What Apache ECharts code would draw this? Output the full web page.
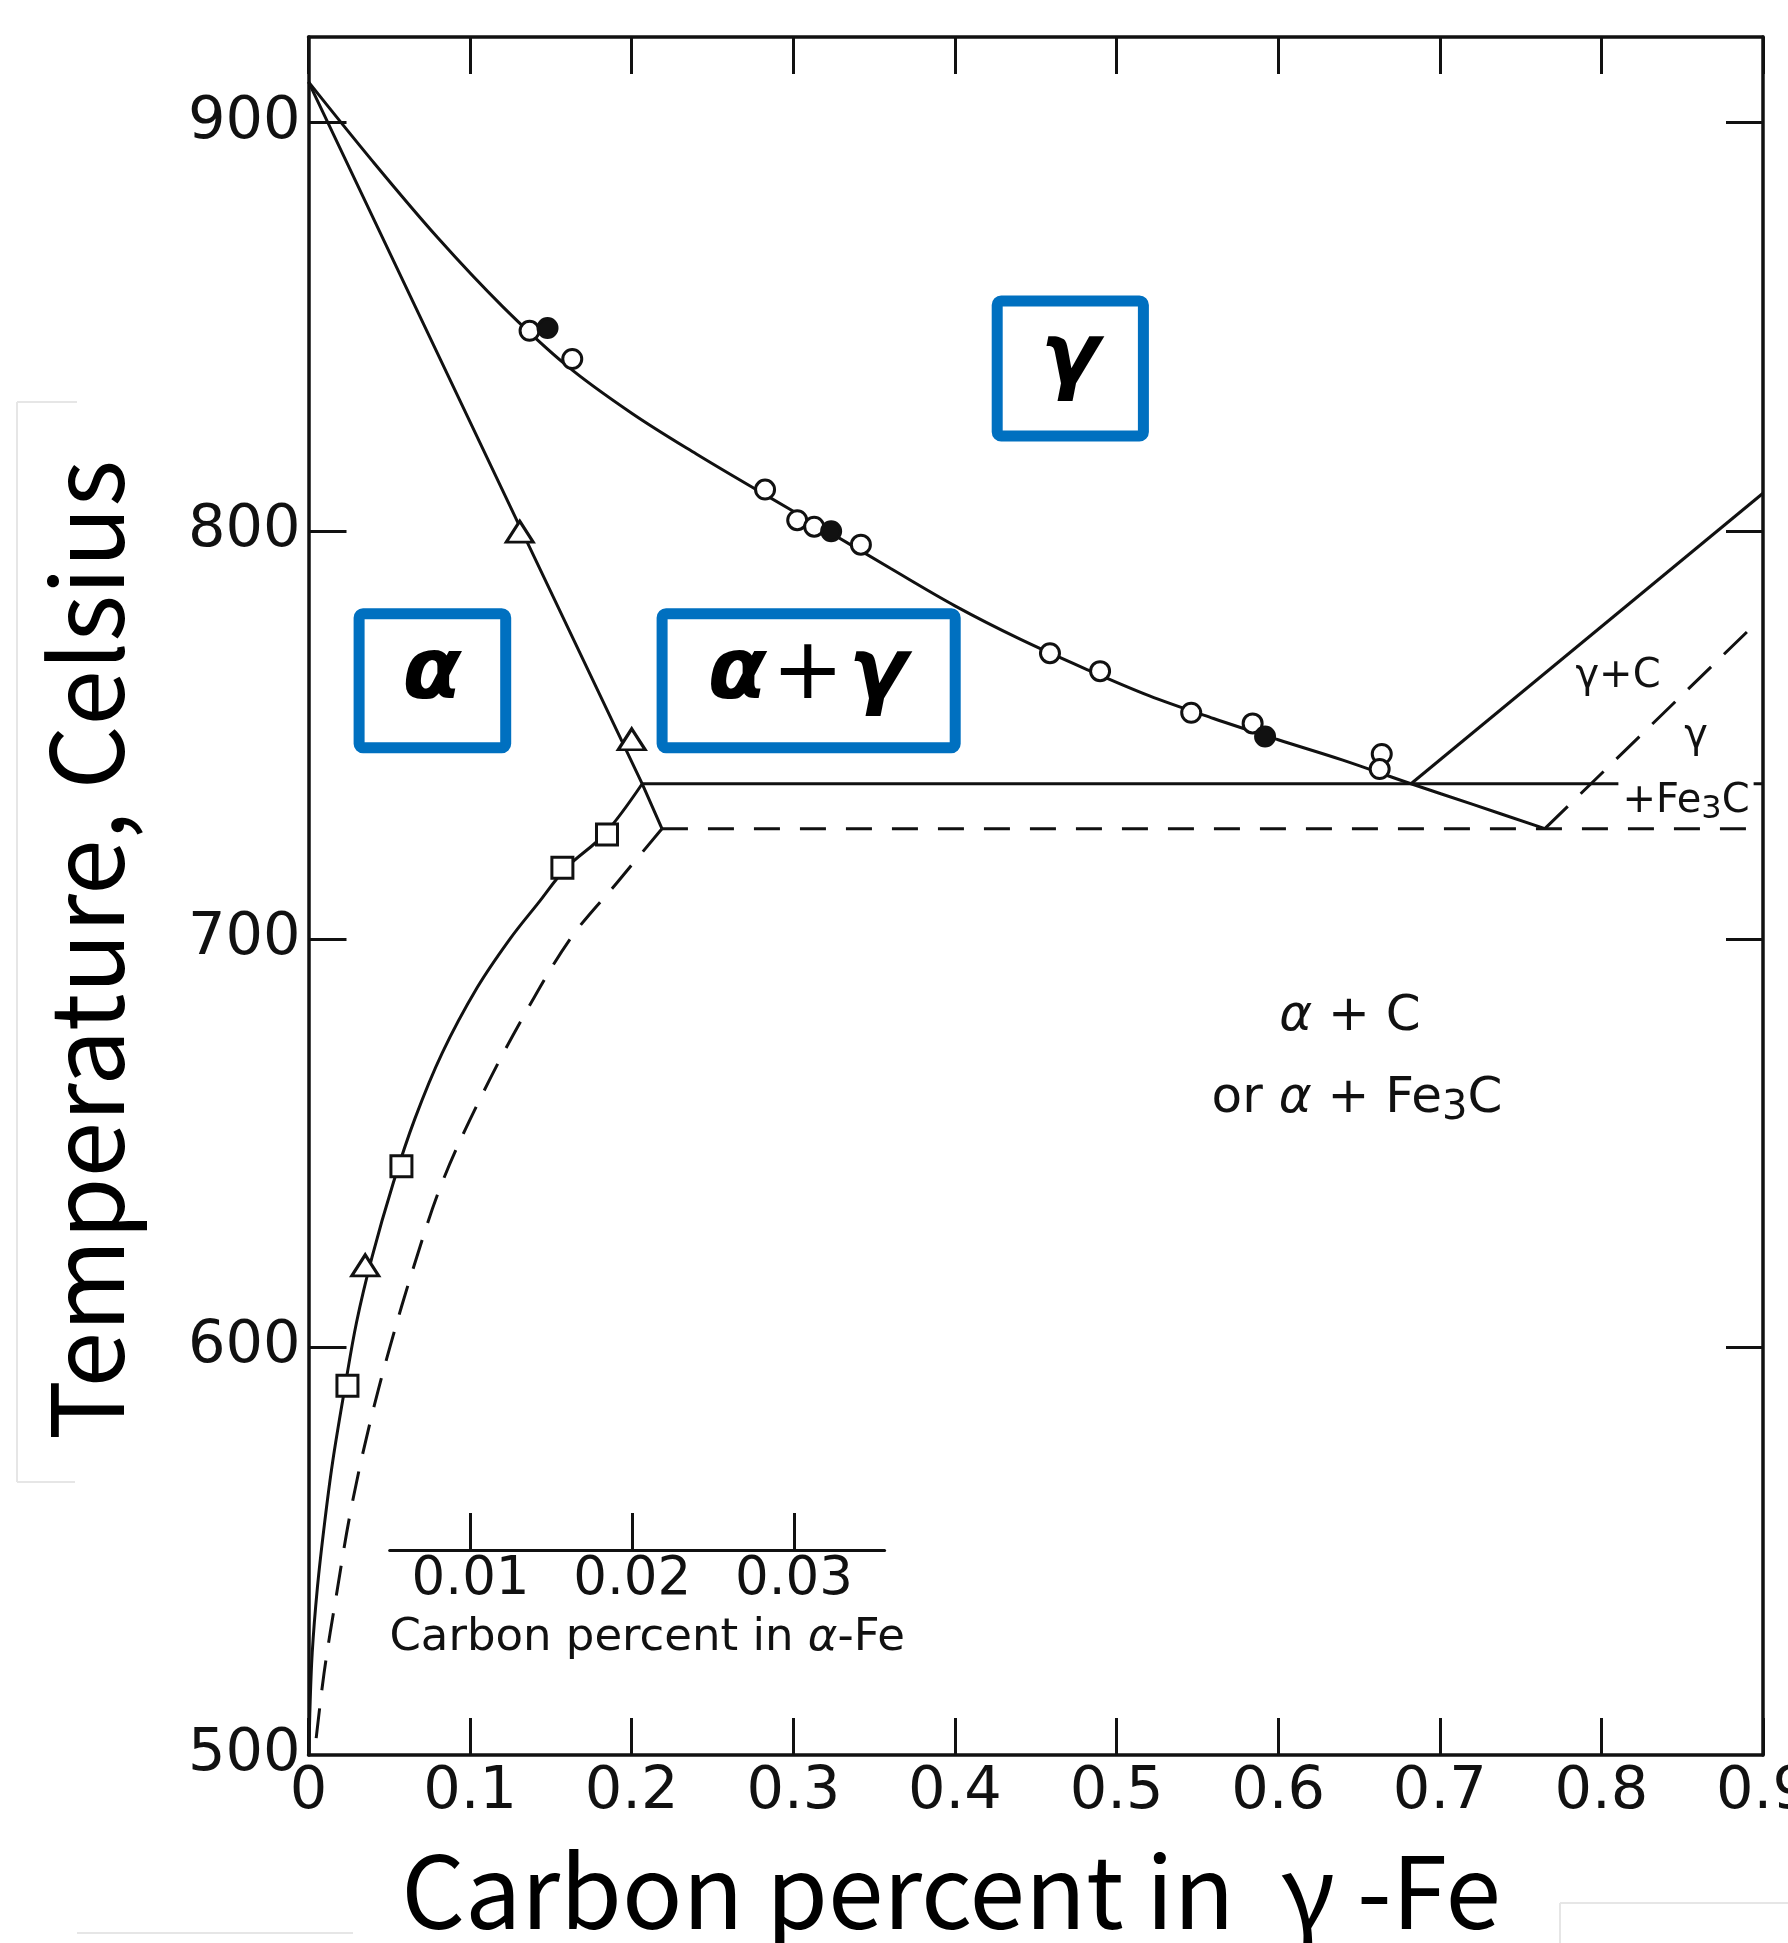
<!DOCTYPE html>
<html>
<head>
<meta charset="utf-8">
<script src="https://cdn.jsdelivr.net/npm/echarts@6/dist/echarts.min.js"></script>
<style>
html,body{margin:0;padding:0;background:#fff;}
#chart{width:1788px;height:1943px;}
</style>
</head>
<body>
<div id="chart"></div>
<script>
// ---------------- DATA ----------------
// Temperature axis (Celsius)
const tempLabelValues = [500, 600, 700, 800, 900];
const tempTickValues = [600, 700, 800, 900];
// Inset alpha-Fe carbon axis ticks (%)
const alphaInsetTickValues = [0.01, 0.02, 0.03];

// gamma / (alpha+gamma) boundary : carbon % in gamma-Fe vs temperature
const a3Carbon = [0, 0.04, 0.08, 0.12, 0.16, 0.20, 0.24, 0.28, 0.32, 0.36, 0.40, 0.44, 0.48, 0.52, 0.56, 0.60, 0.64, 0.6822, 0.72, 0.765];
const a3Temp   = [910, 890.4, 871.8, 855.0, 840.4, 828.8, 818.8, 809.4, 800.2, 790.8, 781.6, 773.5, 766.3, 759.6, 754.0, 748.8, 743.8, 738, 733.0, 727];

// measured points on that boundary
const a3OpenCarbon = [0.1368, 0.1632, 0.2825, 0.3024, 0.3129, 0.3418, 0.4588, 0.4898, 0.5462, 0.5842, 0.6641, 0.6628];
const a3OpenTemp   = [849.0, 842.1, 810.1, 802.6, 801.0, 796.6, 770.0, 765.6, 755.4, 752.8, 745.3, 741.6];
const a3FilledCarbon = [0.1479, 0.3234, 0.5919];
const a3FilledTemp   = [849.7, 799.9, 749.6];

// alpha / (alpha+gamma) boundary : carbon % in alpha-Fe
const alphaGammaCarbon = [0, 0.0066, 0.0132, 0.02065, 0.02187];
const alphaGammaTemp   = [910, 855, 800, 738, 727];

// solubility of carbon in alpha-Fe (graphite equilibrium, solid)
const alphaGraphiteCarbon = [0.02065, 0.0183, 0.01595, 0.0142, 0.01247, 0.01043, 0.00827, 0.00659, 0.00523, 0.00393, 0.00297, 0.00225, 0.0015, 0.001, 0.00055, 0.00023, 0.00008, 0.00004];
const alphaGraphiteTemp   = [738, 725.6, 717.4, 708.7, 700, 688, 672, 656, 640, 622, 606, 590, 572, 557, 541, 525, 510, 500];

// solubility of carbon in alpha-Fe (cementite equilibrium, dashed)
const alphaCementiteCarbon = [0.02187, 0.01914, 0.0162, 0.01316, 0.01052, 0.00824, 0.00654, 0.00504, 0.00372, 0.00262, 0.00176, 0.00096, 0.00036];
const alphaCementiteTemp   = [727, 714, 700, 680, 660, 640, 620, 600, 580, 560, 540, 520, 500];

// measured points in alpha-Fe scale
const alphaTriangleCarbon = [0.01307, 0.0200, 0.00351];
const alphaTriangleTemp   = [799.8, 748.9, 620.0];
const alphaSquareCarbon = [0.01847, 0.01571, 0.00575, 0.00241];
const alphaSquareTemp   = [725.6, 717.4, 644.3, 590.5];

// eutectoid horizontals (gamma-Fe scale)
const stableEutectoidCarbon = [0.2065, 0.9];
const stableEutectoidTemp   = [738, 738];
const metaEutectoidCarbon = [0.2187, 0.9];
const metaEutectoidTemp   = [727, 727];

// gamma / (gamma + C) and gamma / (gamma + Fe3C)
const gammaGraphiteCarbon = [0.6822, 0.9];
const gammaGraphiteTemp   = [738, 809.2];
const gammaCementiteCarbon = [0.765, 0.896];
const gammaCementiteTemp   = [727, 777.5];

// ---------------- CHART ----------------
const zip = (xs, ys) => xs.map((x, i) => [x, ys[i]]);
const INK = '#111';
const TICK_FONT = 'DejaVu Sans';

function curve(xs, ys, xAxisIndex, dash, smooth) {
  return {
    type: 'line', xAxisIndex: xAxisIndex, yAxisIndex: 0,
    data: zip(xs, ys), showSymbol: false, symbol: 'none',
    smooth: smooth === undefined ? 0.3 : smooth, silent: true, z: 3,
    lineStyle: { color: INK, width: 3, type: dash || 'solid' }
  };
}
function marks(xs, ys, xAxisIndex, symbol, size, filled) {
  return {
    type: 'scatter', xAxisIndex: xAxisIndex, yAxisIndex: 0,
    data: zip(xs, ys), symbol: symbol, symbolSize: size, silent: true, z: 5,
    itemStyle: { color: filled ? INK : '#fff', borderColor: INK, borderWidth: 3, opacity: 1 }
  };
}

const chart = echarts.init(document.getElementById('chart'), null, { renderer: 'canvas', width: 1788, height: 1943 });

const axisLineStyle = { show: true, onZero: false, lineStyle: { color: INK, width: 3.5 } };
const tickStyle = { color: INK, width: 3 };

function txt(x, y, text, font, extra) {
  return {
    type: 'text', x: x, y: y, z: 120,
    style: Object.assign({
      text: text, font: font, fill: INK,
      align: 'center', verticalAlign: 'middle',
      textAlign: 'center', textVerticalAlign: 'middle'
    }, extra || {})
  };
}
function box(x, y, w, h) {
  return {
    type: 'rect', z: 110,
    shape: { x: x, y: y, width: w, height: h, r: 4 },
    style: { fill: '#fff', stroke: '#0070C0', lineWidth: 11 }
  };
}
function faint(x1, y1, x2, y2) {
  return { type: 'line', z: 1, shape: { x1: x1, y1: y1, x2: x2, y2: y2 }, style: { stroke: '#e6e6e6', lineWidth: 2 } };
}

const boxFont = 'italic bold 86px "DejaVu Sans"';
const plusFont = '86px "DejaVu Sans"';
const annFont = '40px "DejaVu Sans"';
const regFont = '50px "DejaVu Sans"';
const regItal = 'italic 50px "DejaVu Sans"';
const titleFont = '100px "Noto Sans CJK JP"';

const option = {
  animation: false,
  backgroundColor: '#fff',
  grid: [
    { left: 308.5, right: 25, top: 37, bottom: 188, containLabel: false, outerBoundsMode: 'none' },
    { left: 389.7, right: 903.4, bottom: 393, height: 50, containLabel: false, outerBoundsMode: 'none' }
  ],
  xAxis: [
    { // carbon % in gamma-Fe (bottom)
      gridIndex: 0, type: 'value', min: 0, max: 0.9, interval: 0.1, position: 'bottom',
      axisLine: axisLineStyle,
      axisTick: { show: true, inside: true, length: 37, lineStyle: tickStyle },
      axisLabel: { show: true, margin: 8, fontSize: 59, fontFamily: TICK_FONT, color: INK,
        formatter: v => (v === 0 ? '0' : v.toFixed(1)) },
      splitLine: { show: false }
    },
    { // carbon % in alpha-Fe (same frame, top ticks)
      gridIndex: 0, type: 'value', min: 0, max: 0.09, interval: 0.01, position: 'top',
      axisLine: axisLineStyle,
      axisTick: { show: true, inside: true, length: 37, lineStyle: tickStyle },
      axisLabel: { show: false },
      splitLine: { show: false }
    },
    { // inset alpha-Fe scale
      gridIndex: 1, type: 'value', min: 0.005, max: 0.0356, position: 'bottom',
      axisLine: { show: true, onZero: false, lineStyle: { color: INK, width: 3 } },
      axisTick: { show: true, inside: true, length: 37, lineStyle: tickStyle, customValues: alphaInsetTickValues },
      axisLabel: { show: true, margin: 4, fontSize: 53, fontFamily: TICK_FONT, color: INK,
        customValues: alphaInsetTickValues, formatter: v => v.toFixed(2) },
      splitLine: { show: false },
      name: 'Carbon percent in {a|α}-Fe', nameLocation: 'middle', nameGap: 66,
      nameTextStyle: { fontSize: 45, fontFamily: TICK_FONT, color: INK, padding: [0, 0, 0, 20],
        rich: { a: { fontStyle: 'italic', fontSize: 45, fontFamily: TICK_FONT, color: INK } } }
    }
  ],
  yAxis: [
    {
      gridIndex: 0, type: 'value', min: 500, max: 921, position: 'left',
      axisLine: axisLineStyle,
      axisTick: { show: true, inside: true, length: 38, lineStyle: tickStyle, customValues: tempTickValues },
      axisLabel: { show: true, margin: 8, fontSize: 59, fontFamily: TICK_FONT, color: INK, customValues: tempLabelValues },
      splitLine: { show: false }
    },
    {
      gridIndex: 0, type: 'value', min: 500, max: 921, position: 'right',
      axisLine: axisLineStyle,
      axisTick: { show: true, inside: true, length: 37, lineStyle: tickStyle, customValues: tempTickValues },
      axisLabel: { show: false },
      splitLine: { show: false }
    },
    { gridIndex: 1, type: 'value', min: 0, max: 1, show: false }
  ],
  series: [
    curve(a3Carbon, a3Temp, 0, 'solid', 0.35),
    curve(alphaGammaCarbon, alphaGammaTemp, 1, 'solid', 0),
    curve(alphaGraphiteCarbon, alphaGraphiteTemp, 1, 'solid', 0.35),
    curve(alphaCementiteCarbon, alphaCementiteTemp, 1, [30, 18], 0.35),
    curve(stableEutectoidCarbon, stableEutectoidTemp, 0, 'solid', 0),
    curve(metaEutectoidCarbon, metaEutectoidTemp, 0, [26, 20], 0),
    curve(gammaGraphiteCarbon, gammaGraphiteTemp, 0, 'solid', 0),
    curve(gammaCementiteCarbon, gammaCementiteTemp, 0, [32, 18], 0),
    marks(a3OpenCarbon, a3OpenTemp, 0, 'circle', 19, false),
    marks(a3FilledCarbon, a3FilledTemp, 0, 'circle', 19, true),
    marks(alphaTriangleCarbon, alphaTriangleTemp, 1, 'triangle', [27, 21], false),
    marks(alphaSquareCarbon, alphaSquareTemp, 1, 'rect', 21, false)
  ],
  graphic: [
    // faint borders of pasted title boxes
    faint(17, 402, 77, 402), faint(17, 402, 17, 1482), faint(17, 1482, 75, 1482),
    faint(1560, 1903, 1788, 1903), faint(1560, 1903, 1560, 1943), faint(77, 1933, 353, 1933),
    // axis titles
    {
      type: 'text', x: 86, y: 950, rotation: Math.PI / 2, z: 120,
      style: { text: 'Temperature, Celsius', font: titleFont, fill: '#000',
        align: 'center', verticalAlign: 'middle', textAlign: 'center', textVerticalAlign: 'middle' }
    },
    txt(951, 1891, 'Carbon percent in {g|γ}-Fe', titleFont, { fill: '#000', rich: {
      g: { font: titleFont, fill: '#000', padding: [0, 22, 0, 24] }
    } }),
    // region boxes
    box(997.2, 300.9, 146.2, 135.1),
    box(359.1, 613.8, 146.6, 134),
    box(662.1, 613.8, 293.1, 134),
    txt(1070, 360.5, 'γ', boxFont, { fill: '#000' }),
    txt(432, 676, 'α', boxFont, { fill: '#000' }),
    txt(807.5, 676, '{g|α}{p|+}{g|γ}', boxFont, { fill: '#000', rich: {
      g: { font: boxFont, fill: '#000' },
      p: { font: plusFont, fill: '#000', padding: [0, 5, 0, 5] }
    } }),
    // phase annotations
    txt(1618, 677, 'γ+C', annFont),
    txt(1696, 737, 'γ', annFont),
    txt(1686, 800, '+Fe{s|3}C', annFont, { lineHeight: 48, backgroundColor: '#fff', padding: [4, 4, 0, 4], rich: {
      s: { font: '32px "DejaVu Sans"', fill: INK, lineHeight: 27, verticalAlign: 'bottom' }
    } }),
    txt(1350, 1017, '{a|α} + C', regFont, { rich: { a: { font: regItal, fill: INK } } }),
    txt(1357, 1099, 'or {a|α} + Fe{s|3}C', regFont, { lineHeight: 60, rich: {
      a: { font: regItal, fill: INK, lineHeight: 60 },
      s: { font: '40px "DejaVu Sans"', fill: INK, lineHeight: 22, verticalAlign: 'bottom' }
    } })
  ]
};

chart.setOption(option);
</script>
</body>
</html>
